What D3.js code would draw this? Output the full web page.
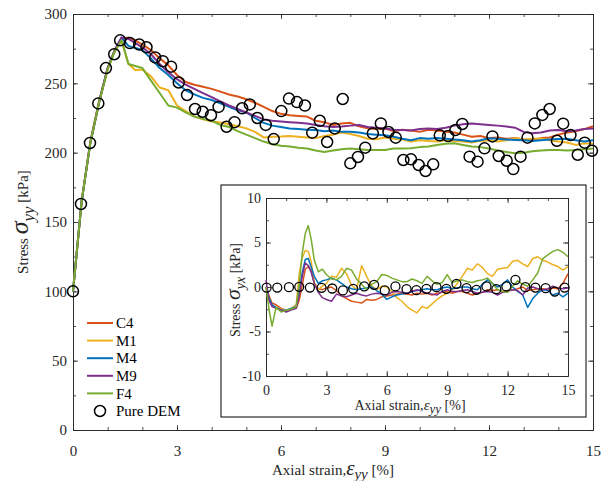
<!DOCTYPE html>
<html>
<head>
  <style>
    body, html { margin: 0; padding: 0; background: #fff; }
    svg { display: block; font-family: "Liberation Serif", "Times New Roman", serif; }
  </style>
</head>
<body>
  <svg id="svg" width="602" height="481"></svg>

  <script src="https://d3js.org/d3.v7.min.js"></script>
  <script>
    const names = ["C4", "M1", "M4", "M9", "F4"]
    const colors = ["#D95319", "#EDB120", "#0072BD", "#7E2F8E", "#77AC30"]

    // main plot: normal stress vs axial strain
    const strain = [0, 0.25, 0.5, 0.75, 1, 1.2, 1.4, 1.6, 1.8, 2,
      2.25, 2.5, 2.75, 3, 3.25, 3.5, 3.75, 4, 4.25, 4.5, 4.75, 5, 5.25, 5.5, 5.75, 6,
      6.25, 6.5, 6.75, 7, 7.25, 7.5, 7.75, 8, 8.25, 8.5, 8.75, 9, 9.25, 9.5, 9.75, 10,
      10.25, 10.5, 10.75, 11, 11.25, 11.5, 11.75, 12, 12.25, 12.5, 12.75, 13, 13.25, 13.5, 13.75, 14,
      14.25, 14.5, 14.75, 15]
    const c4 = [100, 165, 208, 237, 261, 273, 282, 283, 281, 278,
      274, 268, 263, 256, 251, 249, 247.5, 246, 244, 242,
      240.5, 238.5, 236, 233, 230, 228, 227, 226.5, 226, 223,
      222, 220, 221, 221.5, 219, 217.5, 217, 217.5, 215.5, 216.5,
      216, 215, 216.5, 216, 215, 214.5, 213, 211.5, 212, 210.5,
      211, 210, 210.5, 209.5, 209, 210.5, 211, 213, 214.5, 215.5,
      217, 219]
    const m1 = [100, 165, 207, 236, 260, 273, 281, 264, 259.5, 260,
      255, 247, 245, 234, 230, 226, 224, 222.5, 221.7, 220.5,
      219, 217.5, 215, 211, 211.5, 211.6, 212, 211.5, 211, 210.5,
      212, 213, 214.5, 213.5, 212, 210, 209.7, 211, 210, 209.5,
      208, 209, 208.5, 208, 209, 208.5, 208, 207.3, 208.5, 209,
      208, 209, 210.4, 209.5, 210, 210.3, 209, 208, 207.3, 205.6,
      206.8, 206.5]
    const m4 = [100, 165, 207, 236, 261, 273, 283, 277, 275.5, 274,
      268, 261, 256, 250, 245, 242, 239.5, 238, 235.5, 233,
      230.5, 229, 225, 221.5, 219.5, 218.5, 217.5, 217, 216.5, 216.3,
      215.5, 216, 215, 215, 214.5, 213.5, 213, 212.5, 211.5, 210,
      209, 210.5, 210, 210.5, 210, 209.5, 209, 208, 209, 210.4,
      210, 209.5, 209.2, 209, 208.5, 209, 209.5, 209.8, 210, 209,
      208, 209]
    const m9 = [100, 165, 207, 236, 261, 274, 283, 282, 279, 276,
      271, 264, 258, 253, 249, 246, 243, 240, 237, 234,
      231.5, 229, 226.5, 224, 223, 222.5, 222, 221.5, 221, 220,
      219, 218.5, 218.8, 219.5, 220, 218.5, 218, 217.5, 216.5, 216.3,
      216, 217, 217.5, 217, 218, 219.5, 220.5, 221, 220.5, 220,
      219.5, 218.8, 218, 215, 214, 214.5, 216, 216.3, 215.5, 216,
      217, 217.5]
    const f4 = [100, 165, 207, 236, 260, 273, 281, 264, 262.5, 261,
      252, 243, 234, 232.5, 229, 226, 224.5, 223, 220, 218.5,
      215.5, 213, 210.5, 208, 206, 205, 204.5, 203.5, 203, 201.5,
      200.5, 201.5, 202.5, 203, 202.5, 202, 202, 202, 203, 203,
      203.2, 204, 204.5, 205.5, 206.5, 206.8, 205.6, 204.5, 204, 203,
      201.5, 200.5, 199.6, 200, 201, 201.5, 202, 202, 201.5, 202,
      202.5, 203]
    const demStrain = [0, 0.23, 0.49, 0.73, 0.95, 1.19, 1.36, 1.64, 1.91, 2.12,
      2.37, 2.59, 2.83, 3.05, 3.29, 3.52, 3.74, 3.98, 4.2, 4.43,
      4.66, 4.88, 5.1, 5.32, 5.56, 5.79, 6.01, 6.23, 6.46, 6.69,
      6.9, 7.12, 7.33, 7.55, 7.78, 8.0, 8.22, 8.43, 8.65, 8.88,
      9.1, 9.31, 9.53, 9.75, 9.97, 10.17, 10.39, 10.58, 10.82, 11.03,
      11.23, 11.44, 11.67, 11.87, 12.1, 12.28, 12.51, 12.7, 12.91, 13.11,
      13.32, 13.54, 13.75, 13.96, 14.14, 14.35, 14.56, 14.76, 14.97]
    const demStress = [100, 163, 207, 235.5, 261, 271, 281, 279, 278, 276,
      268.7, 266, 262, 250.6, 241.6, 231.5, 229.5, 227, 233, 218.7,
      222, 232, 234.8, 225, 220, 209.8, 230, 239, 236.5, 234,
      214.4, 223, 207.7, 217.5, 238.7, 192.3, 196.9, 203.6, 213.9, 221.1,
      214.9, 210.8, 194.7, 195.2, 191.1, 186.8, 191.6, 212.5, 212, 216.3,
      220.7, 197.1, 193.5, 203.1, 211.7, 197.6, 194.2, 188.2, 197.1, 210.8,
      221.1, 227.2, 231.5, 208.6, 220.9, 212.7, 198.5, 207.2, 201.4]

    // inset: shear stress vs axial strain
    const strainInset = [0, 0.15, 0.3, 0.5, 0.75, 1, 1.25, 1.5, 1.65, 1.8, 1.95, 2.1, 2.25, 2.4, 2.6, 2.8,
      3, 3.25, 3.5, 3.75, 4, 4.25, 4.5, 4.75, 5, 5.25, 5.5, 5.75, 6, 6.25, 6.5, 6.75, 7,
      7.25, 7.5, 7.75, 8, 8.25, 8.5, 8.75, 9, 9.25, 9.5, 9.75, 10, 10.25, 10.5, 10.75, 11,
      11.25, 11.5, 11.75, 12, 12.25, 12.5, 12.75, 13, 13.25, 13.5, 13.75, 14, 14.25, 14.5, 14.75, 15]
    const c4Shear = [0, -1.0, -1.8, -2.0, -2.4, -2.6, -2.5, -2.4, -1.5, 0.2, 2.0, 2.3, 1.8, 0.4, -0.2, -0.3,
      -0.1, 0.0, -0.4, -1.0, -1.3, -1.6, -1.7, -1.8, -1.4, -1.5,
      -1.4, -1.1, -1.0, -0.9, -0.8, -0.7, -0.8, -0.9, -0.7, -0.8,
      -0.7, -0.9, -0.7, -0.6, -0.5, -0.7, -0.5, -0.5, -0.7, -0.9,
      -0.7, -0.6, -0.3, -0.4, -0.3, -0.5, -0.4, -0.3, -0.2, 0.0,
      -0.4, -0.3, -0.2, -0.2, -0.3, -0.1, -0.2, 0.4, 1.5]
    const m1Shear = [0, -1.5, -2.0, -2.3, -2.5, -2.6, -2.4, -2.0, 1.5, 3.3, 4.1, 4.0, 2.8, 0.5, -0.3, 0.1,
      0.4, 1.2, 1.1, 2.1, 1.5, 0.2, -0.3, 2.4, 1.2, 0.1,
      -0.3, 0.1, 0.0, -0.5, -1.2, -1.6, -2.2, -2.6, -2.9, -2.2,
      -2.4, -1.9, -1.4, -1.0, -0.7, -0.3, 0.4, 1.2, 2.1, 1.9,
      2.6, 2.2, 1.5, 1.2, 2.0, 2.1, 2.2, 2.9, 3.0, 2.6,
      2.3, 3.2, 3.4, 3.0, 2.8, 2.5, 2.3, 1.9, 2.3]
    const m4Shear = [0, -1.2, -2.0, -2.3, -2.6, -2.6, -2.4, -2.2, -0.3, 1.6, 3.1, 3.2, 2.2, 1.2, 0.4, 0.7,
      0.8, 1.0, 0.8, 0.4, 0.0, -0.2, -0.3, -0.2, -0.1, 0.0,
      -0.4, -0.8, -1.4, -1.1, -0.9, -0.8, -0.7, -0.5, -0.4, -0.3,
      -0.2, -0.3, -0.3, -0.1, 0.0, -0.2, -0.1, 0.0, 0.0, -0.2,
      -0.3, 0.3, 0.8, 0.4, 0.0, 0.3, 0.8, 0.0, -0.5, -0.9,
      -2.3, -1.3, -0.7, -0.3, -0.4, -0.9, -0.7, -1.1, -0.7]
    const m9Shear = [0.8, -1.5, -2.2, -2.4, -2.6, -2.8, -2.6, -2.4, -1.0, 1.2, 2.7, 2.4, 1.6, 0.4, -0.6, -1.2,
      -1.4, -1.6, -0.8, -1.0, -1.1, -0.9, -0.7, -0.9, -1.0, -0.8,
      -0.7, -0.8, -0.9, -0.6, -0.5, -0.6, -0.7, -0.5, -0.3, -0.5,
      -0.7, -0.8, -0.9, -0.5, -0.3, -0.5, -0.5, -0.4, -0.3, -0.5,
      -0.7, -0.6, -0.5, -0.6, -0.9, -0.6, -0.5, -0.3, -0.4, -0.9,
      -0.1, 0.0, -0.2, -0.3, -0.2, 0.1, -0.1, -0.2, -0.1]
    const f4Shear = [0, -2.5, -4.4, -2.3, -2.8, -2.6, -2.5, -2.2, 0.3, 3.8, 6.0, 6.9, 5.3, 3.0, 1.7, 2.0,
      1.4, 0.9, 0.8, 1.2, 2.1, 1.9, 0.9, 0.3, -0.3, 0.3,
      0.6, 1.4, 1.3, 1.0, 0.8, 0.6, 0.6, 0.9, 0.7, 0.4,
      1.2, 0.7, 0.3, 0.5, 1.4, 0.5, 0.7, 0.8, 0.6, 0.5,
      0.7, 0.8, 1.0, 0.4, -0.3, -0.5, -0.6, 0.1, 0.7, 0.3,
      0.1, 0.8, 1.6, 3.2, 3.6, 4.0, 4.2, 3.9, 3.4]
    const demStrainInset = [0.03, 0.56, 1.14, 1.65, 2.18, 2.76, 3.29, 3.82, 4.33, 4.88,
      5.37, 5.9, 6.43, 6.98, 7.47, 7.97, 8.47, 8.96, 9.46, 9.96,
      10.45, 10.95, 11.44, 11.94, 12.39, 12.88, 13.38, 13.89, 14.34, 14.83]
    const demShear = [-0.06, -0.06, -0.02, 0.02, -0.06, -0.09, -0.17, -0.39, -0.21, 0.06,
      0.24, -0.39, 0.06, -0.24, -0.36, -0.21, -0.02, -0.21, 0.36, -0.13,
      -0.32, 0.06, -0.24, 0.06, 0.81, -0.02, -0.06, -0.13, -0.51, -0.06]

    const mainTicksX = [0, 3, 6, 9, 12, 15]
    const minorTicksX = d3.range(0, 16)
    const mainTicksY = [0, 50, 100, 150, 200, 250, 300]
    const minorTicksY = d3.range(0, 301, 25)
    const insetTicksY = [-10, -5, 0, 5, 10]
    const insetMinorY = d3.range(-10, 10.1, 2.5)

    const axisColor = "#262626"
    const svg = d3.select("#svg")

    function frame(g, x, y, xMaj, xMin, yMaj, yMin, fs, padX, padY) {
      const bottom = y.range()[0], top = y.range()[1]
      const left = x.range()[0], right = x.range()[1]
      const sides = [
        [d3.axisBottom(x), `translate(0,${bottom})`, xMaj, xMin, true, padX],
        [d3.axisTop(x), `translate(0,${top})`, xMaj, xMin, false, 0],
        [d3.axisLeft(y), `translate(${left},0)`, yMaj, yMin, true, padY],
        [d3.axisRight(y), `translate(${right},0)`, yMaj, yMin, false, 0]
      ]
      sides.forEach(([ax, tr, maj, min, lab, pad]) => {
        g.append("g").attr("transform", tr)
          .call(ax.tickValues(min).tickSize(-3).tickSizeOuter(0).tickFormat(""))
        g.append("g").attr("transform", tr)
          .call(ax.tickValues(maj).tickSize(-5).tickSizeOuter(0).tickPadding(pad)
            .tickFormat(lab ? (d => String(d)) : ""))
      })
      g.selectAll(".domain, .tick line").attr("stroke", axisColor).attr("stroke-width", 0.8)
      g.selectAll("g").attr("font-family", null).attr("font-size", null)
      g.selectAll(".tick text").attr("fill", axisColor).style("font-size", fs + "px")
    }

    // ---------- main plot ----------
    const x = d3.scaleLinear().domain([0, 15]).range([73, 593])
    const y = d3.scaleLinear().domain([0, 300]).range([430, 14])
    const mainSeries = [c4, m1, m4, m9, f4]

    const main = svg.append("g")
    frame(main, x, y, mainTicksX, minorTicksX, mainTicksY, minorTicksY, 15, 15, 6)

    const line = d3.line().x((d, i) => x(strain[i])).y(d => y(d))
    mainSeries.forEach((s, k) => {
      main.append("path").attr("d", line(s))
        .attr("fill", "none").attr("stroke", colors[k]).attr("stroke-width", 2)
        .attr("stroke-linejoin", "round")
    })
    main.append("g").selectAll("circle").data(demStress).join("circle")
      .attr("cx", (d, i) => x(demStrain[i])).attr("cy", d => y(d)).attr("r", 5.5)
      .attr("fill", "none").attr("stroke", "#000").attr("stroke-width", 1.5)

    // axis labels
    main.append("text").attr("x", 333).attr("y", 475).attr("text-anchor", "middle")
      .attr("fill", axisColor).style("font-size", "15px")
      .call(t => {
        t.append("tspan").text("Axial strain,")
        t.append("tspan").attr("font-style", "italic").style("font-size", "21px").text("ε")
        t.append("tspan").attr("font-style", "italic").style("font-size", "15px").attr("dy", 4).text("yy")
        t.append("tspan").attr("dy", -4).text(" [%]")
      })
    main.append("text").attr("transform", "translate(28,222) rotate(-90)").attr("text-anchor", "middle")
      .attr("fill", axisColor).style("font-size", "15px")
      .call(t => {
        t.append("tspan").text("Stress ")
        t.append("tspan").attr("font-style", "italic").style("font-size", "26px").text("σ")
        t.append("tspan").attr("font-style", "italic").style("font-size", "17px").attr("dy", 6).text("yy")
        t.append("tspan").attr("dy", -6).text(" [kPa]")
      })

    // legend
    const legend = main.append("g")
    const legY = d3.scalePoint().domain([...names, "Pure DEM"]).range([323, 411])
    names.forEach((n, k) => {
      legend.append("line").attr("x1", 87).attr("x2", 113).attr("y1", legY(n)).attr("y2", legY(n))
        .attr("stroke", colors[k]).attr("stroke-width", 2)
      legend.append("text").attr("x", 116).attr("y", legY(n)).attr("dy", "0.35em")
        .style("font-size", "15px").attr("fill", "#000").text(n)
    })
    legend.append("circle").attr("cx", 100).attr("cy", legY("Pure DEM")).attr("r", 5.5)
      .attr("fill", "none").attr("stroke", "#000").attr("stroke-width", 1.5)
    legend.append("text").attr("x", 116).attr("y", legY("Pure DEM")).attr("dy", "0.35em")
      .style("font-size", "15px").attr("fill", "#000").text("Pure DEM")

    // ---------- inset ----------
    const inset = svg.append("g")
    inset.append("rect").attr("x", 221).attr("y", 185).attr("width", 365).attr("height", 232)
      .attr("fill", "#fff").attr("stroke", "#000").attr("stroke-width", 1)

    const xi = d3.scaleLinear().domain([0, 15]).range([266, 568])
    const yi = d3.scaleLinear().domain([-10, 10]).range([376, 198])
    frame(inset, xi, yi, mainTicksX, minorTicksX, insetTicksY, insetMinorY, 14, 9, 5)

    const insetSeries = [c4Shear, m1Shear, m4Shear, m9Shear, f4Shear]
    const lineI = d3.line().x((d, i) => xi(strainInset[i])).y(d => yi(d))
    insetSeries.forEach((s, k) => {
      inset.append("path").attr("d", lineI(s))
        .attr("fill", "none").attr("stroke", colors[k]).attr("stroke-width", 1.5)
        .attr("stroke-linejoin", "round")
    })
    inset.append("g").selectAll("circle").data(demShear).join("circle")
      .attr("cx", (d, i) => xi(demStrainInset[i])).attr("cy", d => yi(d)).attr("r", 4.5)
      .attr("fill", "none").attr("stroke", "#000").attr("stroke-width", 1.3)

    inset.append("text").attr("x", 410).attr("y", 410).attr("text-anchor", "middle")
      .attr("fill", axisColor).style("font-size", "14px")
      .call(t => {
        t.append("tspan").text("Axial strain,")
        t.append("tspan").attr("font-style", "italic").style("font-size", "15px").text("ε")
        t.append("tspan").attr("font-style", "italic").style("font-size", "13px").attr("dy", 3).text("yy")
        t.append("tspan").attr("dy", -3).text(" [%]")
      })
    inset.append("text").attr("transform", "translate(240,290) rotate(-90)").attr("text-anchor", "middle")
      .attr("fill", axisColor).style("font-size", "14px")
      .call(t => {
        t.append("tspan").text("Stress ")
        t.append("tspan").attr("font-style", "italic").style("font-size", "22px").text("σ")
        t.append("tspan").attr("font-style", "italic").style("font-size", "14px").attr("dy", 5).text("yx")
        t.append("tspan").attr("dy", -5).text(" [kPa]")
      })
  </script>
</body>
</html>
